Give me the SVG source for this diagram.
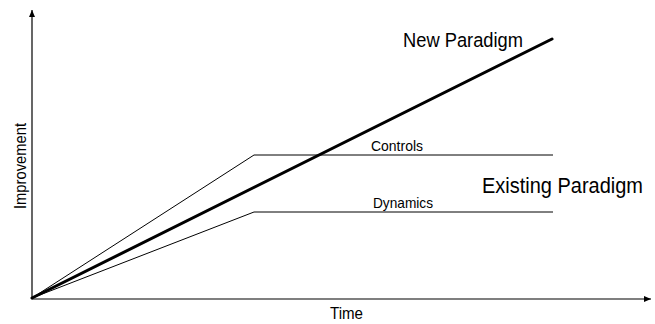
<svg xmlns="http://www.w3.org/2000/svg" width="655" height="324" viewBox="0 0 655 324">
<defs>
<style>
text{font-family:"Liberation Sans",Arial,sans-serif;fill:#000}
.thin{stroke:#000;stroke-width:1;fill:none}
.axis{stroke:#000;stroke-width:1.2;fill:none}
.thick{stroke:#000;stroke-width:3;fill:none;stroke-linecap:round}
</style>
<marker id="arr" markerWidth="8" markerHeight="8" refX="7" refY="4" orient="auto" markerUnits="userSpaceOnUse">
<path d="M0,1 L7,4 L0,7 Z" fill="#000"/>
</marker>
</defs>
<rect width="655" height="324" fill="#fff"/>
<g id="connectors">
<line class="axis" x1="32" y1="299" x2="32" y2="10" marker-end="url(#arr)"/>
<line class="axis" x1="32" y1="299" x2="651" y2="299" marker-end="url(#arr)"/>
<polyline class="thin" points="32,298 254,155 553,155"/>
<polyline class="thin" points="32,298 254,212 553,212"/>
<line class="thick" x1="32" y1="298" x2="552" y2="39"/>
</g>
<g id="labels">
<text x="403" y="47" font-size="20.5" textLength="120" lengthAdjust="spacingAndGlyphs">New Paradigm</text>
<text x="482" y="193" font-size="21.5" textLength="161" lengthAdjust="spacingAndGlyphs">Existing Paradigm</text>
<text x="371" y="151" font-size="14.5" textLength="52" lengthAdjust="spacingAndGlyphs">Controls</text>
<text x="373" y="208" font-size="14.5" textLength="60" lengthAdjust="spacingAndGlyphs">Dynamics</text>
<text x="330" y="319" font-size="16" textLength="33" lengthAdjust="spacingAndGlyphs">Time</text>
<text transform="translate(26,166) rotate(-90)" text-anchor="middle" font-size="16" textLength="86" lengthAdjust="spacingAndGlyphs">Improvement</text>
</g>
</svg>
